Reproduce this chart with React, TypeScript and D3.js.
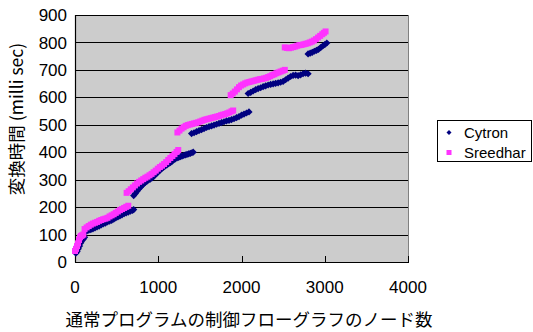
import React from "react";
import * as d3 from "d3";

const xTicks = [0, 1000, 2000, 3000, 4000];
const yTicks = [0, 100, 200, 300, 400, 500, 600, 700, 800, 900];
const seriesNames = ["Cytron", "Sreedhar"];
const xTitle = "通常プログラムの制御フローグラフのノード数";
const yTitle = "変換時間 (milli sec)";

const cytron: [number, number][] = [
  [10,32],[25,38],[40,48],[55,58],[70,70],[85,78],[100,84],[115,90],
  [140,112],[165,116],[190,118],[215,121],[240,124],[265,128],[290,131],[315,135],[340,139],[365,142],[390,146],[415,149],[440,152],[465,156],[490,161],[515,164],[540,168],[565,172],[590,176],[615,179],[640,182],[665,185],[690,188],[705,191],
  [705,242],[725,250],[745,258],[765,266],[785,272],[805,279],[825,285],[845,290],[865,295],[885,299],[905,302],[925,306],[945,312],[965,318],[985,324],[1005,330],[1025,336],[1045,341],[1065,346],[1085,350],[1105,354],[1125,358],[1145,362],[1165,367],[1185,372],[1205,376],[1225,379],[1245,381],[1265,384],[1285,386],[1305,388],[1325,390],[1345,392],[1365,394],[1385,396],[1405,398],[1420,400],
  [1400,468],[1430,471],[1460,475],[1490,479],[1520,482],[1550,486],[1580,490],[1610,493],[1640,496],[1670,499],[1700,502],[1730,505],[1760,508],[1790,511],[1820,514],[1850,516],[1880,519],[1910,522],[1940,526],[1970,530],[2000,535],[2030,539],[2060,543],[2090,547],
  [2080,614],[2110,618],[2140,623],[2170,628],[2200,632],[2230,635],[2260,639],[2290,642],[2320,645],[2350,647],[2380,649],[2410,651],[2440,653],[2470,655],[2500,658],[2530,664],[2560,670],[2590,676],[2620,680],[2650,681],[2680,679],[2710,682],[2740,686],[2770,688],[2800,686],
  [2800,758],[2825,761],[2850,764],[2875,768],[2900,771],[2925,775],[2950,781],[2975,787],[3000,792],[3025,798],
];

const sreedhar: [number, number][] = [
  [0,40],[12,48],[24,58],[36,68],[48,80],[60,90],[72,95],[84,97],[100,100],
  [115,120],[140,126],[165,131],[190,136],[215,140],[240,143],[265,146],[290,150],[315,153],[340,156],[365,158],[390,161],[415,166],[440,170],[465,174],[490,179],[515,184],[540,189],[565,193],[590,197],[615,201],[640,205],
  [620,252],[645,258],[670,265],[695,272],[720,279],[745,286],[770,292],[795,297],[820,302],[845,307],[870,311],[895,316],[920,321],[945,327],[970,333],[995,340],[1020,346],[1045,351],[1070,357],[1095,364],[1120,372],[1145,379],[1170,386],[1195,393],[1220,401],[1240,408],
  [1230,472],[1255,479],[1280,486],[1305,491],[1330,496],[1355,499],[1380,501],[1405,503],[1430,505],[1455,507],[1480,509],[1505,512],[1530,515],[1555,518],[1580,520],[1605,522],[1630,524],[1655,526],[1680,528],[1705,530],[1730,532],[1755,535],[1780,537],[1805,539],[1830,542],[1855,545],[1880,549],[1900,552],
  [1870,608],[1895,614],[1920,621],[1945,629],[1970,637],[1995,643],[2020,647],[2045,651],[2070,654],[2095,656],[2120,658],[2145,660],[2170,662],[2195,664],[2220,666],[2245,667],[2270,669],[2295,671],[2320,674],[2345,677],[2370,681],[2395,684],[2420,688],[2445,691],[2470,694],[2495,697],[2520,700],
  [2520,782],[2545,780],[2570,779],[2595,781],[2620,783],[2645,785],[2670,788],[2695,790],[2720,791],[2745,793],[2770,795],[2795,797],[2820,800],[2845,803],[2870,807],[2895,812],[2920,818],[2945,824],[2970,830],[2990,835],[3010,840],
];

const W = 533;
const H = 332;
const latin = "'Liberation Sans', Arial, sans-serif";
const cjk = "'Noto Sans CJK JP', 'Liberation Sans', sans-serif";
const navy = "#000080";
const magenta = "#ff33ff";

export default function App() {
  const x = d3.scaleLinear().domain([0, 4000]).range([75, 408]);
  const y = d3.scaleLinear().domain([0, 900]).range([262, 15]);
  const diamond = "M0,-3.6L3.6,0L0,3.6L-3.6,0Z";
  const [x0, x1] = x.range();
  const [y0, y1] = y.range();

  return (
    <svg width={W} height={H} style={{ position: "absolute", left: 0, top: 0, display: "block", background: "#fff" }}>
      <rect x={x0} y={y1} width={x1 - x0} height={y0 - y1} fill="#cccccc" />
      <line x1={x1 + 0.5} x2={x1 + 0.5} y1={y1} y2={y0} stroke="#808080" strokeWidth={1} />
      {yTicks.map((t) => (
        <line key={"g" + t} x1={x0} x2={x1} y1={Math.round(y(t)) + 0.5} y2={Math.round(y(t)) + 0.5} stroke="#000" strokeWidth={1} />
      ))}
      {xTicks.map((t) => (
        <line key={"xt" + t} x1={Math.round(x(t)) + 0.5} x2={Math.round(x(t)) + 0.5} y1={y0 - 6} y2={y0} stroke="#000" strokeWidth={1} />
      ))}
      <line x1={x0 + 0.5} x2={x0 + 0.5} y1={y1} y2={y0 + 0.5} stroke="#000" strokeWidth={1.2} />
      <line x1={x0} x2={x1 + 1} y1={y0 + 0.5} y2={y0 + 0.5} stroke="#000" strokeWidth={1.2} />

      <g>
        {cytron.map((d, i) => (
          <path key={"c" + i} d={diamond} transform={`translate(${x(d[0])},${y(d[1])})`} fill={navy} />
        ))}
      </g>
      <g>
        {sreedhar.map((d, i) => (
          <rect key={"s" + i} x={x(d[0]) - 3} y={y(d[1]) - 3} width={6} height={6} fill={magenta} />
        ))}
      </g>

      {yTicks.map((t) => (
        <text key={"yl" + t} x={67} y={y(t)} dy="0.36em" textAnchor="end" fontFamily={latin} fontSize={17} fill="#000">
          {t}
        </text>
      ))}
      {xTicks.map((t) => (
        <text key={"xl" + t} x={x(t)} y={293} textAnchor="middle" fontFamily={latin} fontSize={17} fill="#000">
          {t}
        </text>
      ))}

      <text x={249} y={326} textAnchor="middle" fontFamily={cjk} fontSize={17.5} fill="#000">
        {xTitle}
      </text>
      <text transform={`translate(23,119) rotate(-90)`} textAnchor="middle" fontFamily={cjk} fontSize={17.5} fill="#000">
        {yTitle}
      </text>

      <rect x={437.5} y={120.5} width={94} height={41} fill="#fff" stroke="#000" strokeWidth={1} />
      <path d={diamond} transform="translate(449,132.5) scale(0.7)" fill={navy} />
      <rect x={446.5} y={150} width={5} height={5} fill={magenta} />
      <text x={464} y={132.5} dy="0.36em" fontFamily={latin} fontSize={15} fill="#000">
        {seriesNames[0]}
      </text>
      <text x={464} y={152.5} dy="0.36em" fontFamily={latin} fontSize={15} fill="#000">
        {seriesNames[1]}
      </text>
    </svg>
  );
}
